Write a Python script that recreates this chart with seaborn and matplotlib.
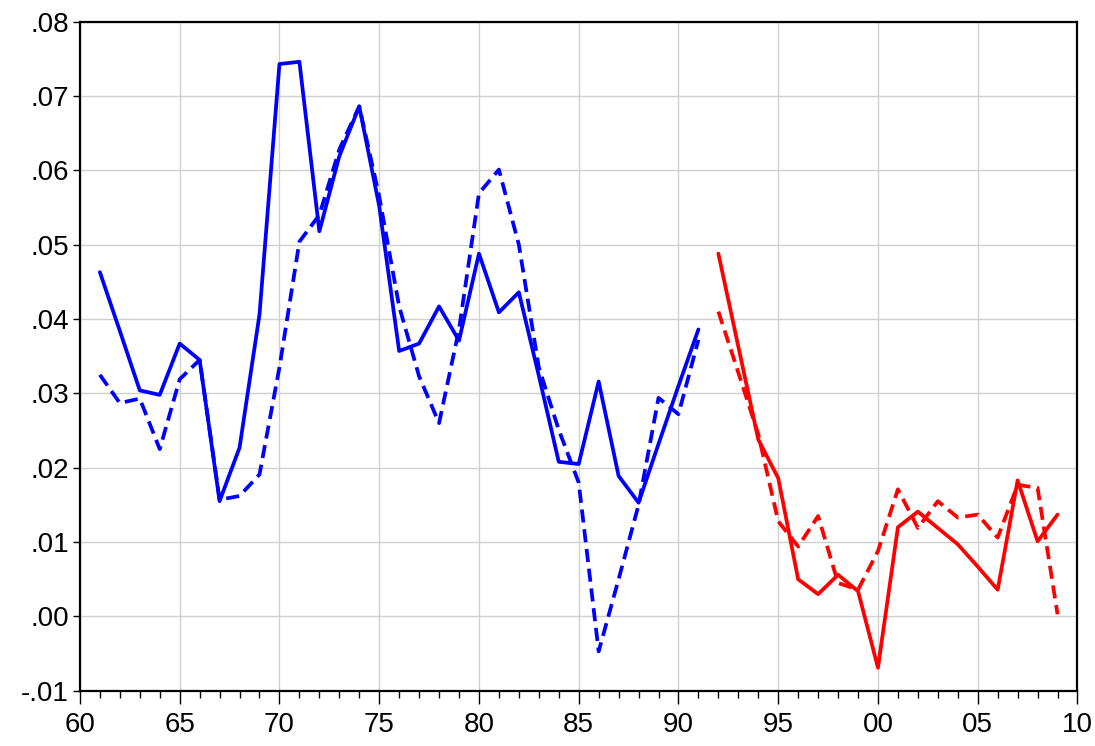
import numpy as np
import pandas as pd
import matplotlib

matplotlib.use("Agg")
import matplotlib.pyplot as plt
from matplotlib.ticker import MultipleLocator, FuncFormatter
import seaborn as sns

# first sample: 1961-1991 (blue), second sample: 1992-2009 (red)
years_a = list(range(1961, 1992))
actual_a = [0.0463, 0.0384, 0.0304, 0.0298, 0.0367, 0.0345, 0.0155, 0.0227, 0.0406, 0.0743,
            0.0746, 0.0518, 0.0619, 0.0686, 0.0552, 0.0357, 0.0367, 0.0417, 0.0371, 0.0488,
            0.0409, 0.0436, 0.0324, 0.0208, 0.0205, 0.0316, 0.0189, 0.0153, 0.0232, 0.0310,
            0.0386]
fitted_a = [0.0325, 0.0287, 0.0293, 0.0225, 0.0319, 0.0345, 0.0157, 0.0162, 0.0191, 0.0335,
            0.0504, 0.0540, 0.0628, 0.0686, 0.0565, 0.0417, 0.0323, 0.0260, 0.0386, 0.0569,
            0.0601, 0.0500, 0.0335, 0.0251, 0.0180, -0.0047, 0.0050, 0.0150, 0.0294, 0.0272,
            0.0372]

years_b = list(range(1992, 2010))
actual_b = [0.0488, 0.0363, 0.0238, 0.0186, 0.0050, 0.0030, 0.0056, 0.0034, -0.0069, 0.0120,
            0.0141, 0.0119, 0.0097, 0.0067, 0.0036, 0.0183, 0.0101, 0.0137]
fitted_b = [0.0410, 0.0328, 0.0245, 0.0128, 0.0094, 0.0135, 0.0045, 0.0036, 0.0088, 0.0171,
            0.0119, 0.0155, 0.0133, 0.0137, 0.0106, 0.0177, 0.0173, 0.0003]

y_ticks = [-0.01, 0.00, 0.01, 0.02, 0.03, 0.04, 0.05, 0.06, 0.07, 0.08]


def build_frame():
    parts = []
    for period, yrs, act, fit in [("early", years_a, actual_a, fitted_a),
                                  ("late", years_b, actual_b, fitted_b)]:
        parts.append(pd.DataFrame({"year": yrs, "value": fit, "period": period, "kind": "fitted"}))
        parts.append(pd.DataFrame({"year": yrs, "value": act, "period": period, "kind": "actual"}))
    return pd.concat(parts, ignore_index=True)


def main():
    sns.set_style("white")
    plt.rcParams["font.family"] = ["Liberation Sans Narrow", "Liberation Sans", "DejaVu Sans"]

    df = build_frame()
    fig, ax = plt.subplots(figsize=(10.95, 7.46), dpi=100)
    fig.subplots_adjust(left=0.073, right=0.984, top=0.971, bottom=0.074)

    ax.grid(True, color="#d0d0d0", linewidth=1.0, zorder=0)
    ax.set_axisbelow(True)

    sns.lineplot(data=df, x="year", y="value", hue="period", style="kind",
                 palette={"early": "#0000ff", "late": "#ff0000"},
                 dashes={"actual": "", "fitted": (3.5, 1.8)},
                 style_order=["actual", "fitted"],
                 linewidth=2.7, legend=False, ax=ax, estimator=None, sort=False)

    ax.set_xlim(1960, 2010)
    ax.set_ylim(-0.01, 0.08)
    ax.xaxis.set_major_locator(MultipleLocator(5))
    ax.xaxis.set_minor_locator(MultipleLocator(1))
    ax.xaxis.set_major_formatter(FuncFormatter(lambda v, _: f"{int(round(v)) % 100:02d}"))
    ax.set_yticks(y_ticks)
    ax.yaxis.set_major_formatter(FuncFormatter(
        lambda v, _: ("-" if v < -1e-9 else "") + f"{abs(v):.2f}".lstrip("0")))

    ax.set_xlabel("")
    ax.set_ylabel("")
    ax.tick_params(axis="x", which="major", direction="out", length=9, width=1,
                   labelsize=20, pad=6, color="black", labelcolor="black")
    ax.tick_params(axis="x", which="minor", direction="out", length=5, width=1, color="black")
    ax.tick_params(axis="y", which="major", direction="out", length=5, width=1,
                   labelsize=20, pad=3, color="black", labelcolor="black")
    ax.tick_params(bottom=True, left=True, which="both")

    for side in ["left", "right", "top", "bottom"]:
        ax.spines[side].set_visible(True)
        ax.spines[side].set_color("black")
        ax.spines[side].set_linewidth(1.6)

    fig.savefig("out.png", dpi=100)
    plt.close(fig)


if __name__ == "__main__":
    main()
